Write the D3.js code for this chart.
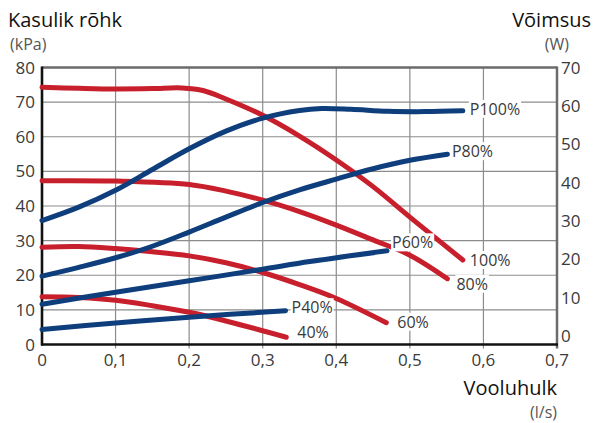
<!DOCTYPE html>
<html>
<head>
<meta charset="utf-8">
<script src="https://cdn.jsdelivr.net/npm/d3@7"></script>
<style>
body { margin: 0; background: #fff; }
svg { display: block; font-family: "Open Sans", sans-serif; }
</style>
</head>
<body>
<svg width="595" height="423"></svg>
<script>
// ticks
var flowTicks = [0, 0.1, 0.2, 0.3, 0.4, 0.5, 0.6, 0.7];
var kpaTicks = [0, 10, 20, 30, 40, 50, 60, 70, 80];
var wattTicks = [0, 10, 20, 30, 40, 50, 60, 70];

// pump pressure curves (flow l/s, kPa)
var press100 = [[0, 74.3], [0.05, 74.0], [0.1, 73.8], [0.15, 73.9], [0.19, 74.1], [0.22, 73.3], [0.25, 70.9], [0.3, 66.2], [0.35, 60.2], [0.4, 53.3], [0.45, 45.6], [0.5, 36.8], [0.572, 24.4]];
var press80 = [[0, 47.3], [0.1, 47.2], [0.2, 46.2], [0.25, 44.3], [0.3, 41.7], [0.35, 38.4], [0.4, 34.5], [0.45, 30.2], [0.5, 25.8], [0.551, 19.0]];
var press60 = [[0, 28.1], [0.05, 28.3], [0.1, 27.7], [0.15, 26.8], [0.2, 25.6], [0.25, 23.6], [0.3, 20.8], [0.35, 17.3], [0.4, 13.3], [0.468, 6.3]];
var press40 = [[0, 13.8], [0.05, 13.6], [0.1, 12.8], [0.15, 11.2], [0.2, 9.3], [0.25, 6.8], [0.332, 2.1]];

// power curves (flow l/s, W)
var power100 = [[0, 30.1], [0.05, 33.6], [0.1, 38.0], [0.15, 43.4], [0.2, 48.8], [0.25, 53.4], [0.3, 56.8], [0.35, 58.8], [0.38, 59.3], [0.42, 59.1], [0.47, 58.6], [0.52, 58.5], [0.572, 58.7]];
var power80 = [[0, 15.6], [0.05, 17.9], [0.1, 20.4], [0.15, 23.4], [0.2, 27.1], [0.25, 31.0], [0.3, 34.8], [0.35, 38.1], [0.4, 40.9], [0.45, 43.6], [0.5, 45.8], [0.551, 47.4]];
var power60 = [[0, 8.3], [0.1, 11.4], [0.2, 14.4], [0.3, 17.4], [0.364, 19.4], [0.469, 22.2]];
var power40 = [[0, 1.7], [0.1, 3.4], [0.2, 4.9], [0.331, 6.6]];

var pressNames = ["100%", "80%", "60%", "40%"];
var powerNames = ["P100%", "P80%", "P60%", "P40%"];

var svg = d3.select("svg");
var plotL = 42, plotR = 557, plotT = 67.5, plotB = 344.5;

var x = d3.scaleLinear().domain([0, 0.7]).range([plotL, plotR]);
var yK = d3.scaleLinear().domain([0, 80]).range([plotB, plotT]);
var yW = d3.scaleLinear().domain([0, 70]).range([336, plotT]);

var comma = d3.formatLocale({decimal: ",", thousands: " ", grouping: [3], currency: ["", ""]}).format(".1f");

var red = "#c81f2d", blue = "#0e3e7c";

// grid
svg.append("g").selectAll("line")
  .data(kpaTicks.slice(1, -1))
  .enter().append("line")
  .attr("x1", plotL).attr("x2", plotR)
  .attr("y1", function(d) { return yK(d); }).attr("y2", function(d) { return yK(d); })
  .attr("stroke", "#8c8c8c").attr("stroke-width", 1.2);

svg.append("g").selectAll("line")
  .data(flowTicks.slice(1, -1))
  .enter().append("line")
  .attr("x1", function(d) { return x(d); }).attr("x2", function(d) { return x(d); })
  .attr("y1", plotT).attr("y2", plotB + 4)
  .attr("stroke", "#8c8c8c").attr("stroke-width", 1.2);

// frame
svg.append("line").attr("x1", plotL).attr("x2", plotR).attr("y1", plotT).attr("y2", plotT)
  .attr("stroke", "#6b6b6b").attr("stroke-width", 2.5);
svg.append("line").attr("x1", plotR).attr("x2", plotR).attr("y1", plotT - 1).attr("y2", plotB + 4)
  .attr("stroke", "#6b6b6b").attr("stroke-width", 2.5);
svg.append("line").attr("x1", plotL).attr("x2", plotL).attr("y1", plotT - 1).attr("y2", plotB + 1)
  .attr("stroke", "#111").attr("stroke-width", 2.6);
svg.append("line").attr("x1", plotL - 1).attr("x2", plotR + 1).attr("y1", plotB).attr("y2", plotB)
  .attr("stroke", "#111").attr("stroke-width", 2.6);

// tick labels
svg.append("g").selectAll("text")
  .data(kpaTicks)
  .enter().append("text")
  .attr("x", 35).attr("y", function(d) { return yK(d); })
  .attr("dy", "0.36em").attr("text-anchor", "end")
  .attr("font-size", 17).attr("fill", "#3a3a3a")
  .text(function(d) { return d; });

svg.append("g").selectAll("text")
  .data(wattTicks)
  .enter().append("text")
  .attr("x", 561).attr("y", function(d) { return yW(d); })
  .attr("dy", "0.36em")
  .attr("font-size", 17).attr("fill", "#3a3a3a")
  .text(function(d) { return d; });

svg.append("g").selectAll("text")
  .data(flowTicks)
  .enter().append("text")
  .attr("x", function(d) { return x(d); }).attr("y", 366)
  .attr("text-anchor", "middle")
  .attr("font-size", 17).attr("fill", "#3a3a3a")
  .text(function(d) { return d === 0 ? "0" : comma(d); });

// titles
svg.append("text").attr("x", 8).attr("y", 27).attr("font-size", 20).attr("fill", "#111").text("Kasulik rõhk");
svg.append("text").attr("x", 10).attr("y", 50).attr("font-size", 16).attr("fill", "#555").text("(kPa)");
svg.append("text").attr("x", 591).attr("y", 27).attr("text-anchor", "end").attr("font-size", 20).attr("fill", "#111").text("Võimsus");
svg.append("text").attr("x", 569).attr("y", 50).attr("text-anchor", "end").attr("font-size", 16).attr("fill", "#555").text("(W)");
svg.append("text").attr("x", 557).attr("y", 395).attr("text-anchor", "end").attr("font-size", 20).attr("fill", "#111").text("Vooluhulk");
svg.append("text").attr("x", 557).attr("y", 418).attr("text-anchor", "end").attr("font-size", 16).attr("fill", "#555").text("(l/s)");

// curves
var pressLine = d3.line()
  .x(function(d) { return x(d[0]); })
  .y(function(d) { return yK(d[1]); })
  .curve(d3.curveCatmullRom.alpha(0.5));

var powerLine = d3.line()
  .x(function(d) { return x(d[0]); })
  .y(function(d) { return yW(d[1]); })
  .curve(d3.curveCatmullRom.alpha(0.5));

var pressSeries = [press100, press80, press60, press40];
var powerSeries = [power100, power80, power60, power40];

svg.append("g").selectAll("path")
  .data(pressSeries)
  .enter().append("path")
  .attr("d", pressLine)
  .attr("fill", "none").attr("stroke", red).attr("stroke-width", 5)
  .attr("stroke-linecap", "round");

svg.append("g").selectAll("path")
  .data(powerSeries)
  .enter().append("path")
  .attr("d", powerLine)
  .attr("fill", "none").attr("stroke", blue).attr("stroke-width", 5)
  .attr("stroke-linecap", "round");

// end labels with white boxes
var pressNudge = [[7, 6], [9, 11], [11, 5], [11, 0.5]];
var powerNudge = [[7, 4], [4.5, 3], [5, -2.5], [6, 2.5]];

function endLabel(sx, sy, name, nudge) {
  var g = svg.append("g");
  var t = g.append("text")
    .attr("x", sx + nudge[0]).attr("y", sy + nudge[1])
    .attr("font-size", 16).attr("fill", "#3a3a3a")
    .text(name);
  var b = t.node().getBBox();
  g.insert("rect", "text")
    .attr("x", b.x - 1).attr("y", b.y + 2)
    .attr("width", b.width + 2).attr("height", b.height - 4)
    .attr("fill", "#fff");
}

pressSeries.forEach(function(s, i) {
  var p = s[s.length - 1];
  endLabel(x(p[0]), yK(p[1]), pressNames[i], pressNudge[i]);
});
powerSeries.forEach(function(s, i) {
  var p = s[s.length - 1];
  endLabel(x(p[0]), yW(p[1]), powerNames[i], powerNudge[i]);
});
</script>
</body>
</html>
